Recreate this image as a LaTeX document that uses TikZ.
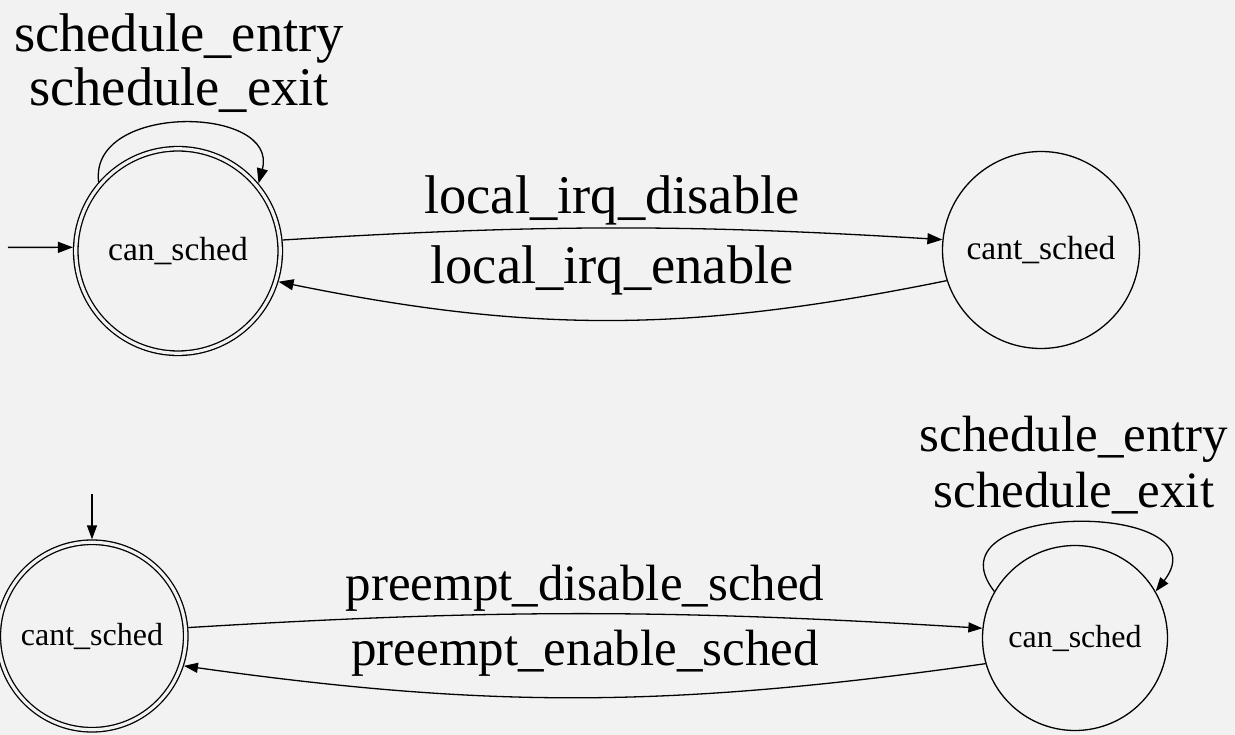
\documentclass[tikz,border=0pt]{standalone}
\usepackage{fontspec}
\setmainfont{Liberation Serif}
\usetikzlibrary{arrows.meta}
\definecolor{pagebg}{HTML}{F2F2F2}
\begin{document}
\begin{tikzpicture}[x=1pt,y=1pt,
  wire/.style={draw=black, line width=1.3pt},
  edge/.style={wire, -{Triangle[length=15pt,width=11pt]}},
  edgesm/.style={wire, -{Triangle[length=14pt,width=10pt]}},
  state/.style={circle, draw=black, line width=1.3pt, inner sep=0pt, fill=pagebg},
  final/.style={state, double=pagebg, double distance=3.2pt, outer sep=2.9pt},
  topfont/.style={font=\fontsize{33.5}{40}\selectfont},
  botfont/.style={font=\fontsize{32}{38}\selectfont},
  toplabel/.style={inner sep=0pt, anchor=base, font=\fontsize{54.5}{54.5}\selectfont, align=center},
  botlabel/.style={inner sep=0pt, anchor=base, font=\fontsize{51}{56}\selectfont, align=center}
]
% canvas
\fill[pagebg] (0,0) rectangle (1235,-735);
\useasboundingbox (0,0) rectangle (1235,-735);

% ---- first automaton: local interrupts ----
\node[final, topfont, minimum size=204.5pt] (A) at (178,-251) {can\_sched};
\node[state, topfont, minimum size=197pt] (B) at (1041,-250) {cant\_sched};
\coordinate (A0) at (8,-247.4);
\draw[edge] (A0) -- (A.178);

\draw[edge] (A.139) to[out=97,in=75,looseness=1.29] (A.40);
% multi-line labels are placed by the baseline of their last line
\node[toplabel] (lA) at (179,-106) {schedule\_entry\\schedule\_exit};

\draw[edge] (A.6) to[out=3.5,in=176.5] (B.174);
\node[toplabel] (lAB) at (612,-214) {local\_irq\_disable};
\draw[edge] (B.198) to[out=191.5,in=-11.5] (A.-17);
\node[toplabel] (lBA) at (612,-284) {local\_irq\_enable};

% ---- second automaton: preemption ----
\node[final, botfont, minimum size=187.5pt] (C) at (92,-636) {cant\_sched};
\node[state, botfont, minimum size=185pt] (D) at (1075,-638) {can\_sched};
\coordinate (C0) at (92,-494);
\draw[edgesm] (C0) -- (C.90);

\draw[edgesm] (D.150) to[out=128,in=52,looseness=1.85] (D.30);
\node[botlabel] (lD) at (1074,-507) {schedule\_entry\\schedule\_exit};

\draw[edgesm] (C.5) to[out=3.5,in=176.5] (D.174);
\node[botlabel] (lCD) at (585,-600) {preempt\_disable\_sched};
\draw[edgesm] (D.196) to[out=188,in=-8] (C.-18);
\node[botlabel] (lDC) at (585,-665) {preempt\_enable\_sched};
\end{tikzpicture}
\end{document}
